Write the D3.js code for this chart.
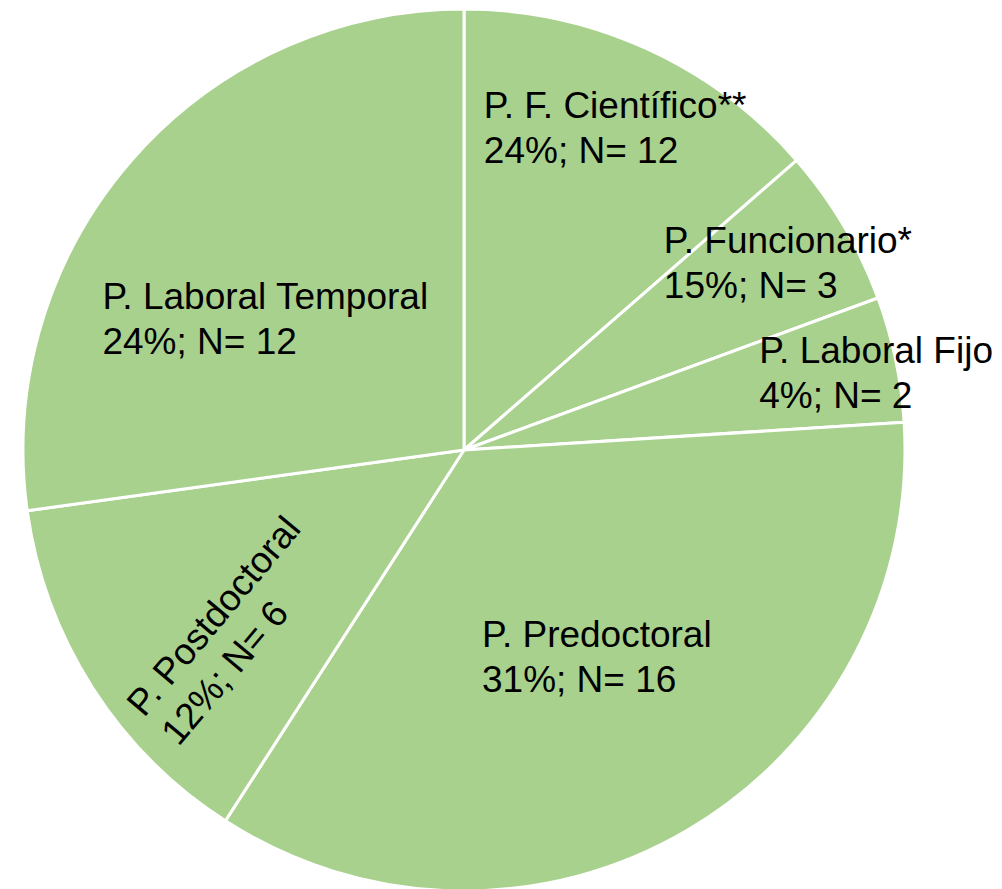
<!DOCTYPE html>
<html>
<head>
<meta charset="utf-8">
<script src="https://cdn.jsdelivr.net/npm/d3@7"></script>
<style>
  body { margin: 0; background: #fff; }
  svg { display: block; }
  .lbl { font-family: "Liberation Sans", Arial, sans-serif; fill: #000; }
</style>
</head>
<body>
<div id="chart"></div>
<script>
// chart data (clockwise from 12 o'clock)
const CATEGORIES = ["P. F. Científico**", "P. Funcionario*", "P. Laboral Fijo",
                    "P. Predoctoral", "P. Postdoctoral", "P. Laboral Temporal"];
const SHARES = [13.6, 5.8, 4.6, 35.1, 13.7, 27.2];   // slice sizes as drawn
const PCT_LABELS = ["24%", "15%", "4%", "31%", "12%", "24%"];
const N_VALUES = [12, 3, 2, 16, 6, 12];

const FRAME_WIDTH = 1002;
const FRAME_HEIGHT = 889;
const CX = 464;
const CY = 450;
const RADIUS = 441;
const FONT_SIZE = 37;
const LINE_GAP = 45;

// manual label placement: polar angle (deg) and fraction of radius for the block centre
const LABEL_ANGLE = [25.1, 59.9, 79.3, 147.2, 232.4, 303.6];
const LABEL_RADIUS = [0.808, 0.849, 0.951, 0.556, 0.669, 0.541];
const LABEL_ROTATE = [0, 0, 0, 0, -50, 0];

const SVG = d3.select("#chart")
              .append("svg")
                .attr("width", FRAME_WIDTH)
                .attr("height", FRAME_HEIGHT);

const data = CATEGORIES.map((c, i) => {
    return {cat: c, share: SHARES[i], pct: PCT_LABELS[i], n: N_VALUES[i]};
});

const pie = d3.pie()
              .sort(null)
              .value((d) => { return d.share; });

const arc = d3.arc()
              .innerRadius(0)
              .outerRadius(RADIUS);

const G = SVG.append("g")
             .attr("transform", "translate(" + CX + "," + CY + ")");

G.selectAll("path")
  .data(pie(data))
  .enter()
  .append("path")
    .attr("d", arc)
    .attr("fill", "#A9D18E")
    .attr("stroke", "#fff")
    .attr("stroke-width", 3)
    .attr("stroke-linejoin", "round");

// labels: two left-aligned lines, block centred on the anchor point
const cap = FONT_SIZE * 0.716;
const firstBase = (cap - LINE_GAP) / 2;

data.forEach((d, i) => {
    const a = LABEL_ANGLE[i] * Math.PI / 180;
    const r = LABEL_RADIUS[i] * RADIUS;
    const x = Math.sin(a) * r;
    const y = -Math.cos(a) * r;

    const g = G.append("g")
               .attr("transform", "translate(" + x + "," + y + ") rotate(" + LABEL_ROTATE[i] + ")");

    const t = g.append("text")
               .attr("class", "lbl")
               .attr("font-size", FONT_SIZE);
    const l1 = t.append("tspan").attr("y", firstBase).text(d.cat);
    const l2 = t.append("tspan").attr("y", firstBase + LINE_GAP).text(d.pct + "; N= " + d.n);

    const w = Math.max(l1.node().getComputedTextLength(), l2.node().getComputedTextLength());
    l1.attr("x", -w / 2);
    l2.attr("x", -w / 2);
});
</script>
</body>
</html>
